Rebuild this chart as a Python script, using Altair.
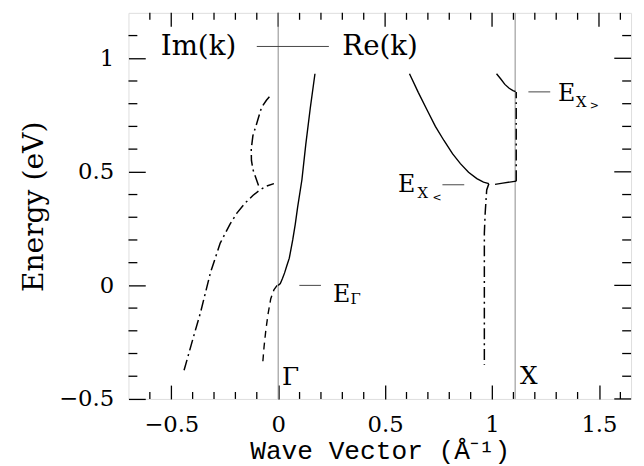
import altair as alt
import pandas as pd

# ---------------- data ----------------
re_gamma_k = [0.0, 0.010, 0.020, 0.030, 0.040, 0.052, 0.068, 0.080, 0.091, 0.111, 0.129, 0.150, 0.172]
re_gamma_e = [0.0, 0.008, 0.030, 0.055, 0.085, 0.120, 0.200, 0.270, 0.345, 0.465, 0.620, 0.780, 0.932]
im_gamma_k = [-0.005, -0.020, -0.035, -0.048, -0.058, -0.066, -0.072]
im_gamma_e = [0.0, -0.020, -0.060, -0.130, -0.200, -0.270, -0.340]
im_low_k = [-0.440, -0.400, -0.363, -0.317, -0.271, -0.225, -0.194, -0.155, -0.117, -0.085, -0.055, -0.020]
im_low_e = [-0.374, -0.240, -0.119, 0.055, 0.186, 0.270, 0.317, 0.362, 0.397, 0.420, 0.437, 0.448]
im_loop_k = [-0.092, -0.105, -0.118, -0.125, -0.126, -0.118, -0.101, -0.078, -0.055, -0.032]
im_loop_e = [0.440, 0.475, 0.510, 0.550, 0.600, 0.660, 0.711, 0.783, 0.815, 0.841]
re_x_k = [0.614, 0.655, 0.698, 0.735, 0.775, 0.815, 0.852, 0.890, 0.929, 0.960, 0.985]
re_x_e = [0.932, 0.850, 0.769, 0.700, 0.638, 0.580, 0.536, 0.498, 0.470, 0.455, 0.448]
im_x_low_k = [0.985, 0.975, 0.968, 0.964, 0.964, 0.964]
im_x_low_e = [0.448, 0.420, 0.320, 0.230, 0.000, -0.350]
re_x_mid_k = [1.014, 1.050, 1.090, 1.113]
re_x_mid_e = [0.445, 0.450, 0.456, 0.459]
im_x_k = [1.113, 1.113]
im_x_e = [0.459, 0.852]
re_x_up_k = [1.021, 1.040, 1.060, 1.080, 1.098, 1.110]
re_x_up_e = [0.932, 0.910, 0.885, 0.868, 0.858, 0.853]

sym_k = [0.0, 1.108]

x_major = [-0.5, 0.0, 0.5, 1.0, 1.5]
x_minor = [-0.6, -0.4, -0.3, -0.2, -0.1, 0.1, 0.2, 0.3, 0.4, 0.6, 0.7, 0.8, 0.9, 1.1, 1.2, 1.3, 1.4, 1.6]
y_major = [-0.5, 0.0, 0.5, 1.0]
y_minor = [-0.4, -0.3, -0.2, -0.1, 0.1, 0.2, 0.3, 0.4, 0.6, 0.7, 0.8, 0.9, 1.1]

mark_k1 = [-0.100, 0.099, 0.768, 1.170]
mark_k2 = [0.237, 0.200, 0.870, 1.272]
mark_e = [1.052, 0.0, 0.443, 0.852]

# ---------------- layout ----------------
W, H = 509, 391
X_DOM = [-0.7, 1.65]
Y_DOM = [-0.5, 1.2]
xs = alt.Scale(domain=X_DOM, nice=False, zero=False)
ys = alt.Scale(domain=Y_DOM, nice=False, zero=False)
XT, YT = 14, 17   # major tick lengths (inward), in pixels

# axes pulled inside the frame by their tick length, so the major ticks point inward
x_axis = alt.Axis(values=x_major, format="~g", ticks=True, tickSize=XT, tickColor="black",
                  tickWidth=1.3, offset=-XT, domain=False, grid=False,
                  labelFont="DejaVu Serif", labelFontSize=23, labelPadding=15, labelColor="black",
                  title="Wave Vector (Å⁻¹)", titleFont="Liberation Mono", titleFontSize=26.5,
                  titleFontWeight="normal", titleColor="black", titleBaseline="alphabetic",
                  titleY=60 + XT)
y_axis = alt.Axis(values=y_major, format="~g", ticks=True, tickSize=YT, tickColor="black",
                  tickWidth=1.3, offset=-YT, domain=False, grid=False,
                  labelFont="DejaVu Serif", labelFontSize=23, labelPadding=15, labelColor="black",
                  title="Energy (eV)", titleFont="DejaVu Serif", titleFontSize=28.5,
                  titleFontWeight="normal", titleColor="black", titleBaseline="alphabetic",
                  titleAngle=270, titleX=-87 - YT, titleY=196, titleAlign="center")

X = alt.X("k:Q", scale=xs, axis=x_axis)
Y = alt.Y("E:Q", scale=ys, axis=y_axis)


def curves(pairs):
    rows = []
    for ci, (ks, es) in enumerate(pairs):
        for oi, (k, e) in enumerate(zip(ks, es)):
            rows.append({"k": k, "E": e, "curve": ci, "o": oi})
    return pd.DataFrame(rows)


solid_df = curves([(re_gamma_k, re_gamma_e), (re_x_k, re_x_e), (re_x_mid_k, re_x_mid_e), (re_x_up_k, re_x_up_e)])
dashed_df = curves([(im_gamma_k, im_gamma_e)])
dashdot_df = curves([(im_low_k, im_low_e), (im_loop_k, im_loop_e), (im_x_low_k, im_x_low_e), (im_x_k, im_x_e)])

solid = alt.Chart(solid_df).mark_line(color="black", strokeWidth=1.4).encode(
    x=X, y=Y, detail="curve:N", order="o:Q")
dashed = alt.Chart(dashed_df).mark_line(color="black", strokeWidth=1.4, strokeDash=[7, 5]).encode(
    x=X, y=Y, detail="curve:N", order="o:Q")
dashdot = alt.Chart(dashdot_df).mark_line(color="black", strokeWidth=1.5, strokeDash=[11, 4, 2, 4]).encode(
    x=X, y=Y, detail="curve:N", order="o:Q")

sym = alt.Chart(pd.DataFrame({"k": sym_k})).mark_rule(color="#8a8a8a", strokeWidth=1).encode(
    x=X, y=alt.value(0), y2=alt.value(H))

marks = alt.Chart(pd.DataFrame({"k": mark_k1, "k2": mark_k2, "E": mark_e})).mark_rule(
    color="#444444", strokeWidth=1).encode(x=X, x2="k2:Q", y=Y)

# remaining inward ticks (minor ones, and the mirrored top/right sides)
xt_major = alt.Chart(pd.DataFrame({"k": x_major})).mark_rule(color="black", strokeWidth=1.3)
xt_minor = alt.Chart(pd.DataFrame({"k": x_minor})).mark_rule(color="black", strokeWidth=1.3)
yt_major = alt.Chart(pd.DataFrame({"E": y_major})).mark_rule(color="black", strokeWidth=1.3)
yt_minor = alt.Chart(pd.DataFrame({"E": y_minor})).mark_rule(color="black", strokeWidth=1.3)
tick_layers = [
    xt_major.encode(x=X, y=alt.value(0), y2=alt.value(XT)),
    xt_minor.encode(x=X, y=alt.value(H - 7), y2=alt.value(H)),
    xt_minor.encode(x=X, y=alt.value(0), y2=alt.value(7)),
    yt_major.encode(y=Y, x=alt.value(W - YT), x2=alt.value(W)),
    yt_minor.encode(y=Y, x=alt.value(0), x2=alt.value(9)),
    yt_minor.encode(y=Y, x=alt.value(W - 9), x2=alt.value(W)),
]


def text_layer(txt, ks, es, fs):
    df = pd.DataFrame({"t": txt, "k": ks, "E": es})
    return alt.Chart(df).mark_text(font="DejaVu Serif", fontSize=fs, align="left",
                                   baseline="alphabetic", color="black").encode(x=X, y=Y, text="t:N")


texts = [
    text_layer(["Im(k)", "Re(k)"], [-0.549, 0.300], [1.013, 1.013], 28),
    text_layer(["E", "E", "E"], [0.256, 0.560, 1.308], [-0.074, 0.409, 0.813], 24),
    text_layer(["Γ", "X"], [0.018, 1.131], [-0.437, -0.433], 25),
    text_layer(["Γ", "X", "X"], [0.338, 0.652, 1.392], [-0.083, 0.383, 0.787], 15),
    text_layer(["<", ">"], [0.722, 1.457], [0.370, 0.778], 11),
]

chart = alt.layer(*tick_layers, sym, marks, solid, dashed, dashdot, *texts).properties(
    width=W, height=H,
    autosize=alt.AutoSizeParams(type="none"),
    padding={"left": 122, "top": 2, "right": 5, "bottom": 65},
).configure_view(stroke="black", strokeWidth=1.5).configure(background="white")

chart.save("out.html", embed_options={"renderer": "svg", "actions": False})
